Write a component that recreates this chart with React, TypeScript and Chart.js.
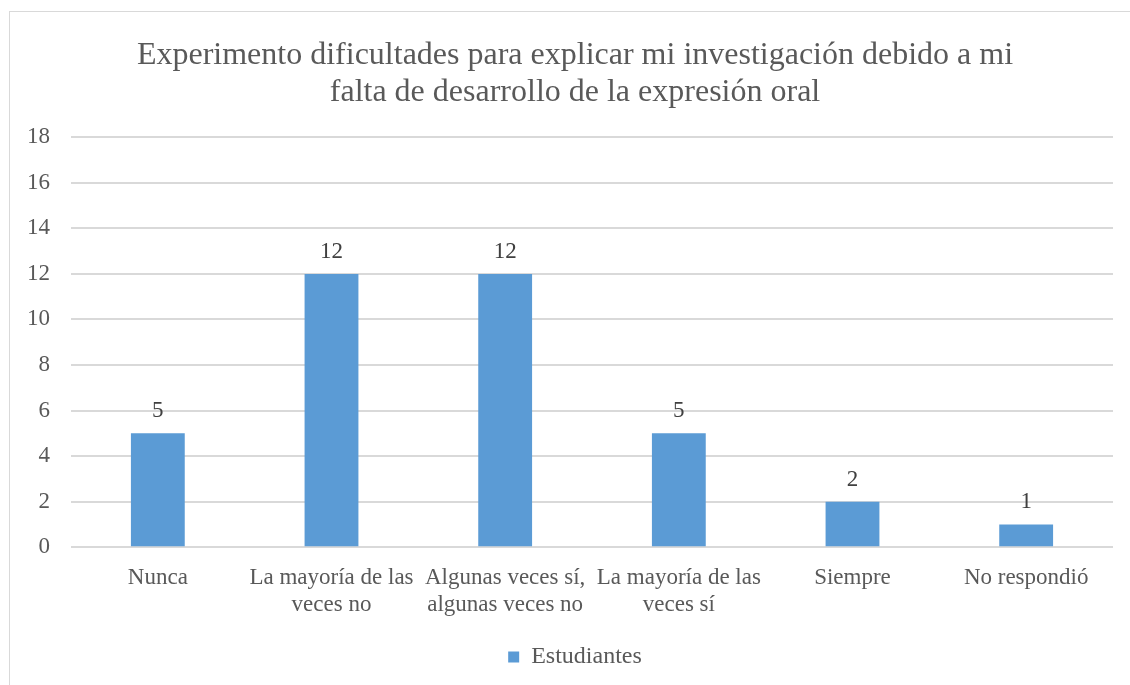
import React, { useEffect, useRef } from "react";
import { Chart, registerables } from "chart.js";

Chart.register(...registerables);

const titleLines = [
  "Experimento dificultades para explicar mi investigación debido a mi",
  "falta de desarrollo de la expresión oral",
];
const categories: string[][] = [
  ["Nunca"],
  ["La mayoría de las", "veces no"],
  ["Algunas veces sí,", "algunas veces no"],
  ["La mayoría de las", "veces sí"],
  ["Siempre"],
  ["No respondió"],
];
const seriesName = "Estudiantes";
const values = [5, 12, 12, 5, 2, 1];
const yMin = 0;
const yMax = 18;
const yStep = 2;

const FONT = "'Liberation Serif', 'Times New Roman', serif";
const TEXT = "#595959";

const dataLabelPlugin = {
  id: "dataLabels",
  afterDatasetsDraw(chart: any) {
    const { ctx } = chart;
    chart.data.datasets.forEach((ds: any, i: number) => {
      const meta = chart.getDatasetMeta(i);
      meta.data.forEach((bar: any, j: number) => {
        ctx.save();
        ctx.font = `23px ${FONT}`;
        ctx.fillStyle = "#404040";
        ctx.textAlign = "center";
        ctx.textBaseline = "middle";
        ctx.fillText(String(ds.data[j]), bar.x, bar.y - 22);
        ctx.restore();
      });
    });
  },
};

export default function App() {
  const ref = useRef<HTMLCanvasElement | null>(null);
  useEffect(() => {
    if (!ref.current) return;
    const chart = new Chart(ref.current, {
      type: "bar",
      data: {
        labels: categories,
        datasets: [
          {
            label: seriesName,
            data: values,
            backgroundColor: "#5B9BD5",
            borderWidth: 0,
            categoryPercentage: 1,
            barPercentage: 0.31,
          },
        ],
      },
      options: {
        animation: false,
        responsive: false,
        maintainAspectRatio: false,
        layout: { padding: { left: 27, right: 27, top: 25, bottom: 21 } },
        plugins: {
          title: {
            display: true,
            text: titleLines,
            color: TEXT,
            font: { family: FONT, size: 32, weight: "normal", lineHeight: 1.16 },
            padding: { top: 0, bottom: 26 },
          },
          legend: {
            display: true,
            position: "bottom",
            labels: {
              color: TEXT,
              font: { family: FONT, size: 24 },
              boxWidth: 11,
              boxHeight: 11,
              padding: 10,
            },
          },
          tooltip: { enabled: false },
        },
        scales: {
          x: {
            grid: { display: false, drawTicks: false },
            border: { display: false },
            ticks: {
              color: TEXT,
              font: { family: FONT, size: 23, lineHeight: 1.17 },
              padding: 17,
              maxRotation: 0,
              autoSkip: false,
            },
          },
          y: {
            min: yMin,
            max: yMax,
            grid: { color: "#d9d9d9", lineWidth: 2, drawTicks: false },
            border: { display: false },
            afterFit: (scale: any) => {
              scale.width = 34;
              scale._computeLabelArea = () => undefined;
            },
            ticks: {
              stepSize: yStep,
              color: TEXT,
              font: { family: FONT, size: 23 },
              padding: 21,
            },
          },
        },
      },
      plugins: [dataLabelPlugin],
    });
    return () => chart.destroy();
  }, []);
  return (
    <div
      style={{
        position: "absolute",
        left: 9,
        top: 11,
        width: 1132,
        height: 690,
        border: "1px solid #d9d9d9",
        boxSizing: "border-box",
        background: "#fff",
      }}
    >
      <canvas ref={ref} width={1130} height={688} style={{ display: "block" }} />
    </div>
  );
}
